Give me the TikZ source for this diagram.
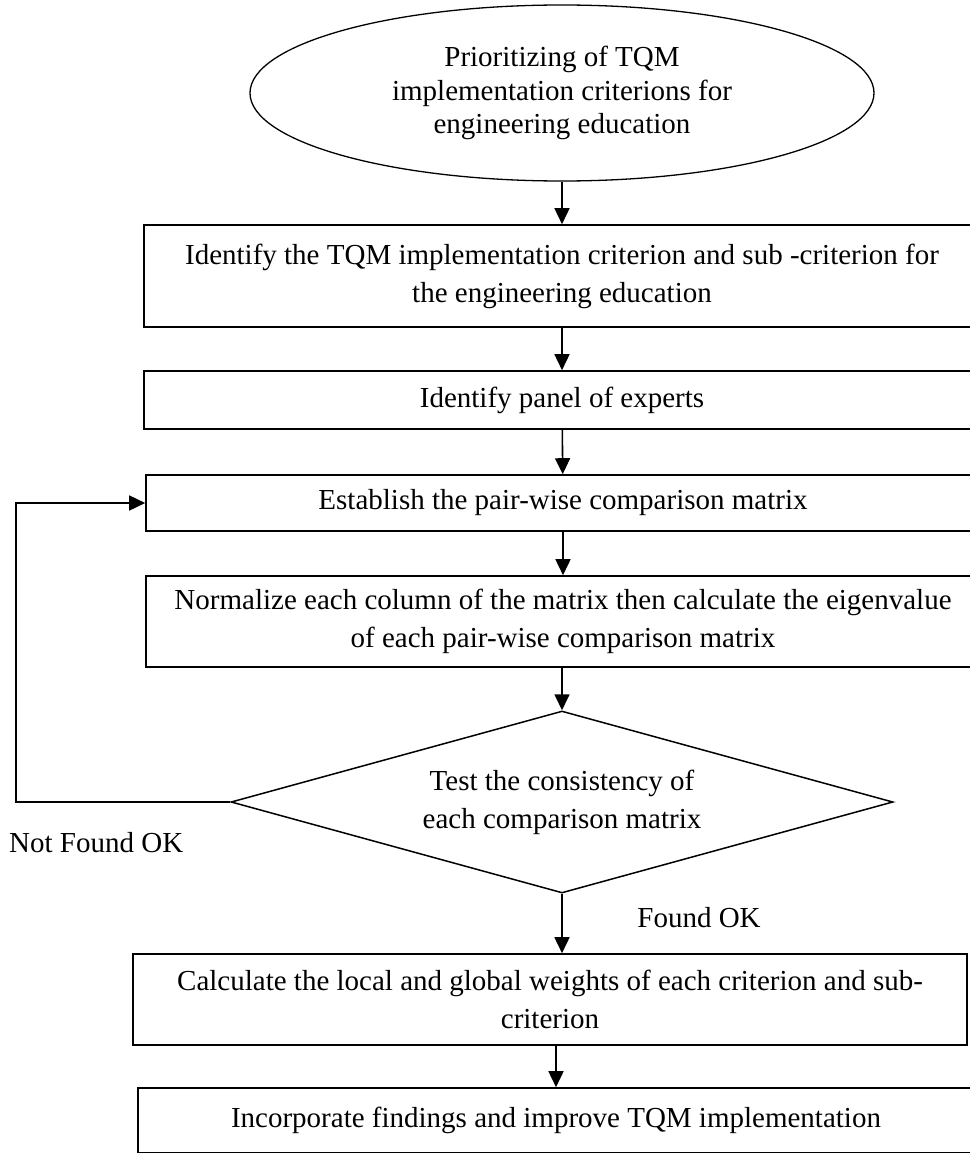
\documentclass[tikz,border=0pt]{standalone}
\usepackage{fontspec}
\setmainfont{Liberation Serif}
\usepackage{tikz}
\usetikzlibrary{
	calc,
	arrows.meta,
	shapes.geometric,
	positioning
	}
\tikzstyle{boite-std}=[draw,rectangle,line width=1.6pt,align=center,inner sep=0pt,font=\fontsize{29}{38}\selectfont]
\tikzstyle{ovale-std}=[draw,ellipse,line width=1.3pt,align=center,inner sep=0pt,minimum width=624pt,minimum height=176pt,font=\fontsize{29}{33.5}\selectfont]
\tikzstyle{losange-std}=[draw,diamond,line width=1.5pt,align=center,inner sep=0pt,minimum width=662pt,minimum height=182pt,aspect=3.6,font=\fontsize{29}{38}\selectfont]
\tikzstyle{fleche-std}=[-{Triangle[length=16pt,width=15pt]},line width=1.6pt]
\tikzstyle{label-std}=[font=\fontsize{29}{38}\selectfont,inner sep=0pt]

\begin{document}
\begin{tikzpicture}[x=1pt,y=-1pt]
\useasboundingbox (0,0) rectangle (969,1153);

\node[ovale-std] (start) at (562,93) {Prioritizing of TQM\\implementation criterions for\\engineering education};
\node[boite-std,minimum width=836pt,minimum height=102pt] (idcrit) at (562,276)
   {Identify the TQM implementation criterion and sub -criterion for\\the engineering education};
\node[boite-std,minimum width=836pt,minimum height=58pt] (panel) at (562,400) {Identify panel of experts};
\node[boite-std,minimum width=834pt,minimum height=56pt] (pairwise) at (563,503) {Establish the pair-wise comparison matrix};
\node[boite-std,minimum width=834pt,minimum height=91pt] (normal) at (563,621.5)
   {Normalize each column of the matrix then calculate the eigenvalue\\of each pair-wise comparison matrix};
\node[losange-std] (test) at (562,802) {Test the consistency of\\each comparison matrix};
\node[boite-std,minimum width=834pt,minimum height=91pt] (weights) at (550,999.5)
   {Calculate the local and global weights of each criterion and sub-\\criterion};
\node[boite-std,minimum width=836pt,minimum height=65pt] (improve) at (556,1120.5) {Incorporate findings and improve TQM implementation};
\coordinate (loop) at (16,503);

\draw[fleche-std] (start) -- (idcrit);
\draw[fleche-std] (idcrit) -- (panel);
\draw[fleche-std] (panel) -- (pairwise);
\draw[fleche-std] (pairwise) -- (normal);
\draw[fleche-std] (normal.south -| test.north) -- (test.north);
\draw[fleche-std] (test.south) -- (test.south |- weights.north);
\draw[fleche-std] (weights.south -| improve.north) -- (improve.north);
\draw[fleche-std] (test.west) -| (loop) -- (pairwise.west);

\node[label-std,anchor=west] (notok) at (9,843) {Not Found OK};
\node[label-std] (found) at (699,918) {Found OK};
\end{tikzpicture}
\end{document}
